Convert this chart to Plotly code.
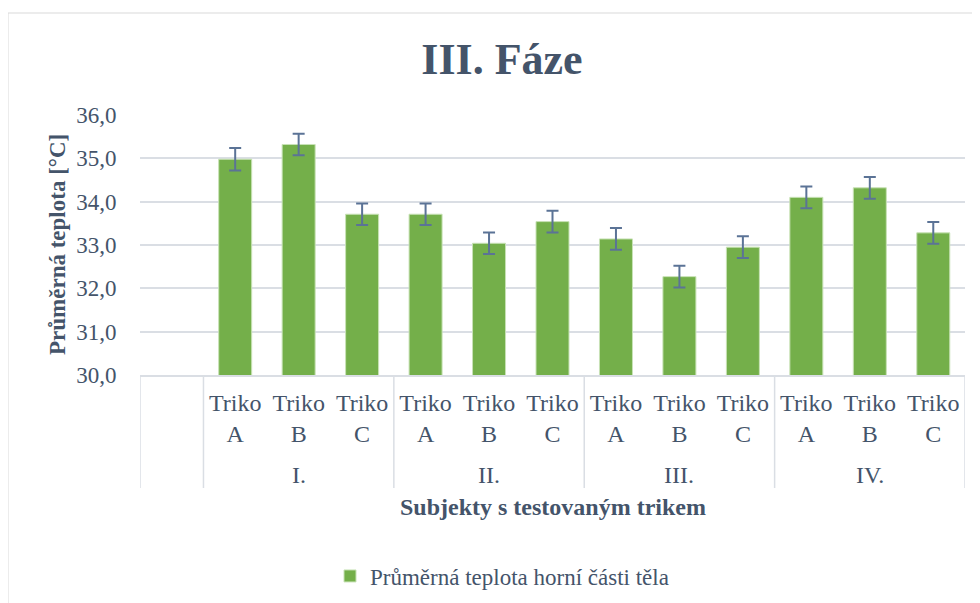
import plotly.graph_objects as go

groups = ["I.", "II.", "III.", "IV."]
shirts = ["Triko<br>A", "Triko<br>B", "Triko<br>C"]
values = [34.98, 35.32, 33.71,
          33.71, 33.04, 33.54,
          33.14, 32.27, 32.95,
          34.10, 34.32, 33.28]
errors = [0.26, 0.25, 0.25,
          0.25, 0.25, 0.25,
          0.25, 0.25, 0.25,
          0.25, 0.25, 0.25]
series_name = "Průměrná teplota horní části těla"
title = "III. Fáze"
y_title = "Průměrná teplota [°C]"
x_title = "Subjekty s testovaným trikem"
y_ticks = [30, 31, 32, 33, 34, 35, 36]

FONT = "Liberation Serif, Times New Roman, serif"
TXT = "#44546a"
GRID = "#dadee4"

# positions: slot 0 is an empty category, bars occupy slots 1..12
xpos = list(range(1, len(values) + 1))
ticktext = [s for g in groups for s in shirts]

fig = go.Figure()
fig.add_trace(go.Bar(
    x=xpos, y=values, name=series_name, width=0.52,
    marker=dict(color="#74af4a", line=dict(color="#c8e2b6", width=1)),
    error_y=dict(type="data", array=errors, visible=True,
                 color="#5b7396", thickness=2, width=6),
))

OFF = 8  # page offset of the figure in the screenshot
W, H = 980, 603
L, T = 140 - OFF, 115 - OFF
R = W - (965 - OFF)
B = H - (375 - OFF)
pw, ph = W - L - R, H - T - B

def py(pix):  # screenshot pixel y -> paper y
    return (H - B - (pix - OFF)) / ph

def px(pix):
    return ((pix - OFF) - L) / pw

shapes = []
for xv in [-0.5, 0.5, 3.5, 6.5, 9.5, 12.5]:
    shapes.append(dict(type="line", xref="x", yref="paper", x0=xv, x1=xv,
                       y0=0, y1=py(488), line=dict(color=GRID, width=1.5)))
# outer chart border
shapes.append(dict(type="rect", xref="paper", yref="paper",
                   x0=px(8), x1=px(1000), y0=py(640), y1=py(13),
                   line=dict(color="#d9d9d9", width=1), fillcolor="rgba(0,0,0,0)",
                   layer="below"))

annotations = []
for i, g in enumerate(groups):
    annotations.append(dict(text=g, x=2 + 3 * i, xref="x", y=py(475), yref="paper",
                            showarrow=False, font=dict(family=FONT, size=24, color=TXT),
                            xanchor="center", yanchor="middle"))
annotations.append(dict(text="<b>" + y_title + "</b>", textangle=-90,
                        x=px(57), xref="paper", y=py(245), yref="paper",
                        showarrow=False, font=dict(family=FONT, size=23, color=TXT),
                        xanchor="center", yanchor="middle"))
annotations.append(dict(text="<b>" + x_title + "</b>",
                        x=px(553), xref="paper", y=py(507), yref="paper",
                        showarrow=False, font=dict(family=FONT, size=24, color=TXT),
                        xanchor="center", yanchor="middle"))

fig.update_layout(
    width=W, height=H,
    margin=dict(l=L, r=R, t=T, b=B, autoexpand=False),
    paper_bgcolor="white", plot_bgcolor="white",
    title=dict(text="<b>" + title + "</b>", x=(502 - OFF) / W, xref="container", xanchor="center",
               y=1 - (59 - OFF) / H, yref="container", yanchor="middle",
               font=dict(family=FONT, size=44, color=TXT)),
    font=dict(family=FONT, color=TXT),
    showlegend=True,
    legend=dict(orientation="h", x=px(502), xanchor="center", y=py(576), yanchor="middle",
                font=dict(family=FONT, size=23, color=TXT), itemwidth=30),
    xaxis=dict(range=[-0.5, 12.5], tickmode="array", tickvals=xpos, ticktext=ticktext,
               showgrid=False, zeroline=False, showline=True, linecolor=GRID, linewidth=1.5,
               ticks="outside", ticklen=5, tickcolor="rgba(0,0,0,0)",
               tickfont=dict(family=FONT, size=24, color=TXT)),
    yaxis=dict(range=[30, 36], tickmode="array", tickvals=y_ticks,
               ticktext=[f"{v:.1f}".replace(".", ",") for v in y_ticks],
               showgrid=True, gridcolor=GRID, gridwidth=1.5, zeroline=False,
               ticks="outside", ticklen=18, tickcolor="rgba(0,0,0,0)",
               tickfont=dict(family=FONT, size=23, color=TXT)),
    shapes=shapes, annotations=annotations,
)

fig.write_html("out.html")
